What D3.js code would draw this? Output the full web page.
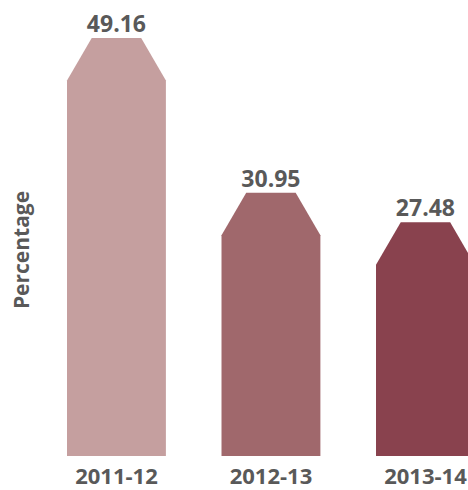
<!DOCTYPE html>
<html>
<head>
<meta charset="utf-8">
<script src="https://cdn.jsdelivr.net/npm/d3@7"></script>
<style>
  html, body { margin: 0; padding: 0; background: #fff; }
  svg { display: block; }
</style>
</head>
<body>
<svg id="chart" width="468" height="490"></svg>
<script>
const categories = ["2011-12", "2012-13", "2013-14"];
const values = [49.16, 30.95, 27.48];
const colors = ["#C59F9F", "#A0686C", "#89424E"];
const yTitle = "Percentage";

const svg = d3.select("#chart");
const textColor = "#595959";
const font = "'Open Sans', 'DejaVu Sans', sans-serif";

const baseY = 456;
const x = d3.scaleBand().domain(categories).range([39.2, 502.7]).paddingInner(0.36).paddingOuter(0.18);
const y = d3.scaleLinear().domain([0, 49.16]).range([baseY, 38]);

const drop = 42.5;
function barPath(d, i) {
  const x0 = x(categories[i]);
  const w = x.bandwidth();
  const inset = w * 0.25;
  const top = y(d);
  const p = d3.path();
  p.moveTo(x0, baseY);
  p.lineTo(x0, top + drop);
  p.lineTo(x0 + inset, top);
  p.lineTo(x0 + w - inset, top);
  p.lineTo(x0 + w, top + drop);
  p.lineTo(x0 + w, baseY);
  p.closePath();
  return p.toString();
}

svg.selectAll("path.bar").data(values).enter().append("path")
  .attr("class", "bar")
  .attr("d", barPath)
  .attr("fill", (d, i) => colors[i]);

svg.selectAll("text.val").data(values).enter().append("text")
  .attr("class", "val")
  .attr("x", (d, i) => x(categories[i]) + x.bandwidth() / 2)
  .attr("y", d => y(d) - 6)
  .attr("text-anchor", "middle")
  .attr("font-family", font)
  .attr("font-weight", "bold")
  .attr("font-size", 23)
  .attr("fill", textColor)
  .text(d => d.toFixed(2));

const xAxis = svg.append("g").attr("transform", `translate(0,${baseY})`)
  .call(d3.axisBottom(x).tickSize(0).tickPadding(28));
xAxis.select(".domain").remove();
xAxis.selectAll("text")
  .attr("font-family", font)
  .attr("font-weight", "bold")
  .attr("font-size", 22)
  .attr("fill", textColor)
  .attr("dy", 0);

svg.append("text")
  .attr("transform", "translate(29,250) rotate(-90)")
  .attr("text-anchor", "middle")
  .attr("font-family", font)
  .attr("font-weight", "bold")
  .attr("font-size", 21)
  .attr("fill", textColor)
  .text(yTitle);
</script>
</body>
</html>
